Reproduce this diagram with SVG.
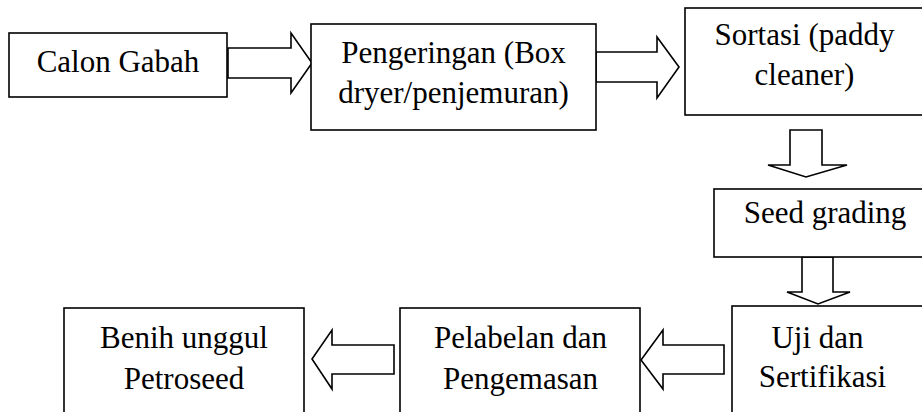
<svg xmlns="http://www.w3.org/2000/svg" width="922" height="412" viewBox="0 0 922 412">
  <style>
    .box { fill: #fff; stroke: #000; stroke-width: 1.6; }
    .arrow { fill: #fff; stroke: #000; stroke-width: 1.6; stroke-linejoin: miter; }
    text { font-family: "Liberation Serif", "Times New Roman", serif; font-size: 31px; fill: #000; text-anchor: middle; }
  </style>
  <rect width="922" height="412" fill="#fff"/>

  <!-- block arrows between the steps -->
  <g id="connectors">
    <polygon class="arrow" points="228,48 291,48 291,33 312,63 291,93 291,78 228,78"/>
    <polygon class="arrow" points="596,52 657,52 657,37 679,67 657,98 657,82 596,82"/>
    <polygon class="arrow" points="790,130 822,130 822,165 847,165 806,177 768,165 790,165"/>
    <polygon class="arrow" points="802,257 833,257 833,292 850,292 818,304 787,292 802,292"/>
    <polygon class="arrow" points="724,345 724,374 663,374 663,389 641,360 663,330 663,345"/>
    <polygon class="arrow" points="394,345 394,374 332,374 332,389 312,359 332,330 332,345"/>
  </g>

  <g id="calon-gabah">
    <rect class="box" x="9" y="33" width="218" height="64"/>
    <text x="118" y="72">Calon Gabah</text>
  </g>

  <g id="pengeringan">
    <rect class="box" x="311" y="24" width="285" height="106"/>
    <text x="453.5" y="63">Pengeringan (Box</text>
    <text x="453.5" y="103">dryer/penjemuran)</text>
  </g>

  <g id="sortasi">
    <rect class="box" x="685" y="8" width="250" height="107"/>
    <text x="804.5" y="45">Sortasi (paddy</text>
    <text x="804.5" y="85">cleaner)</text>
  </g>

  <g id="seed-grading">
    <rect class="box" x="714" y="189" width="222" height="68"/>
    <text x="825" y="223">Seed grading</text>
  </g>

  <g id="uji-sertifikasi">
    <rect class="box" x="732" y="306" width="204" height="120"/>
    <text x="817.5" y="348">Uji dan</text>
    <text x="822.5" y="387">Sertifikasi</text>
  </g>

  <g id="pelabelan">
    <rect class="box" x="400" y="308" width="240" height="120"/>
    <text x="520.5" y="348">Pelabelan dan</text>
    <text x="520.5" y="389">Pengemasan</text>
  </g>

  <g id="benih-unggul">
    <rect class="box" x="64" y="308" width="240" height="120"/>
    <text x="184" y="348">Benih unggul</text>
    <text x="184" y="389">Petroseed</text>
  </g>
</svg>
